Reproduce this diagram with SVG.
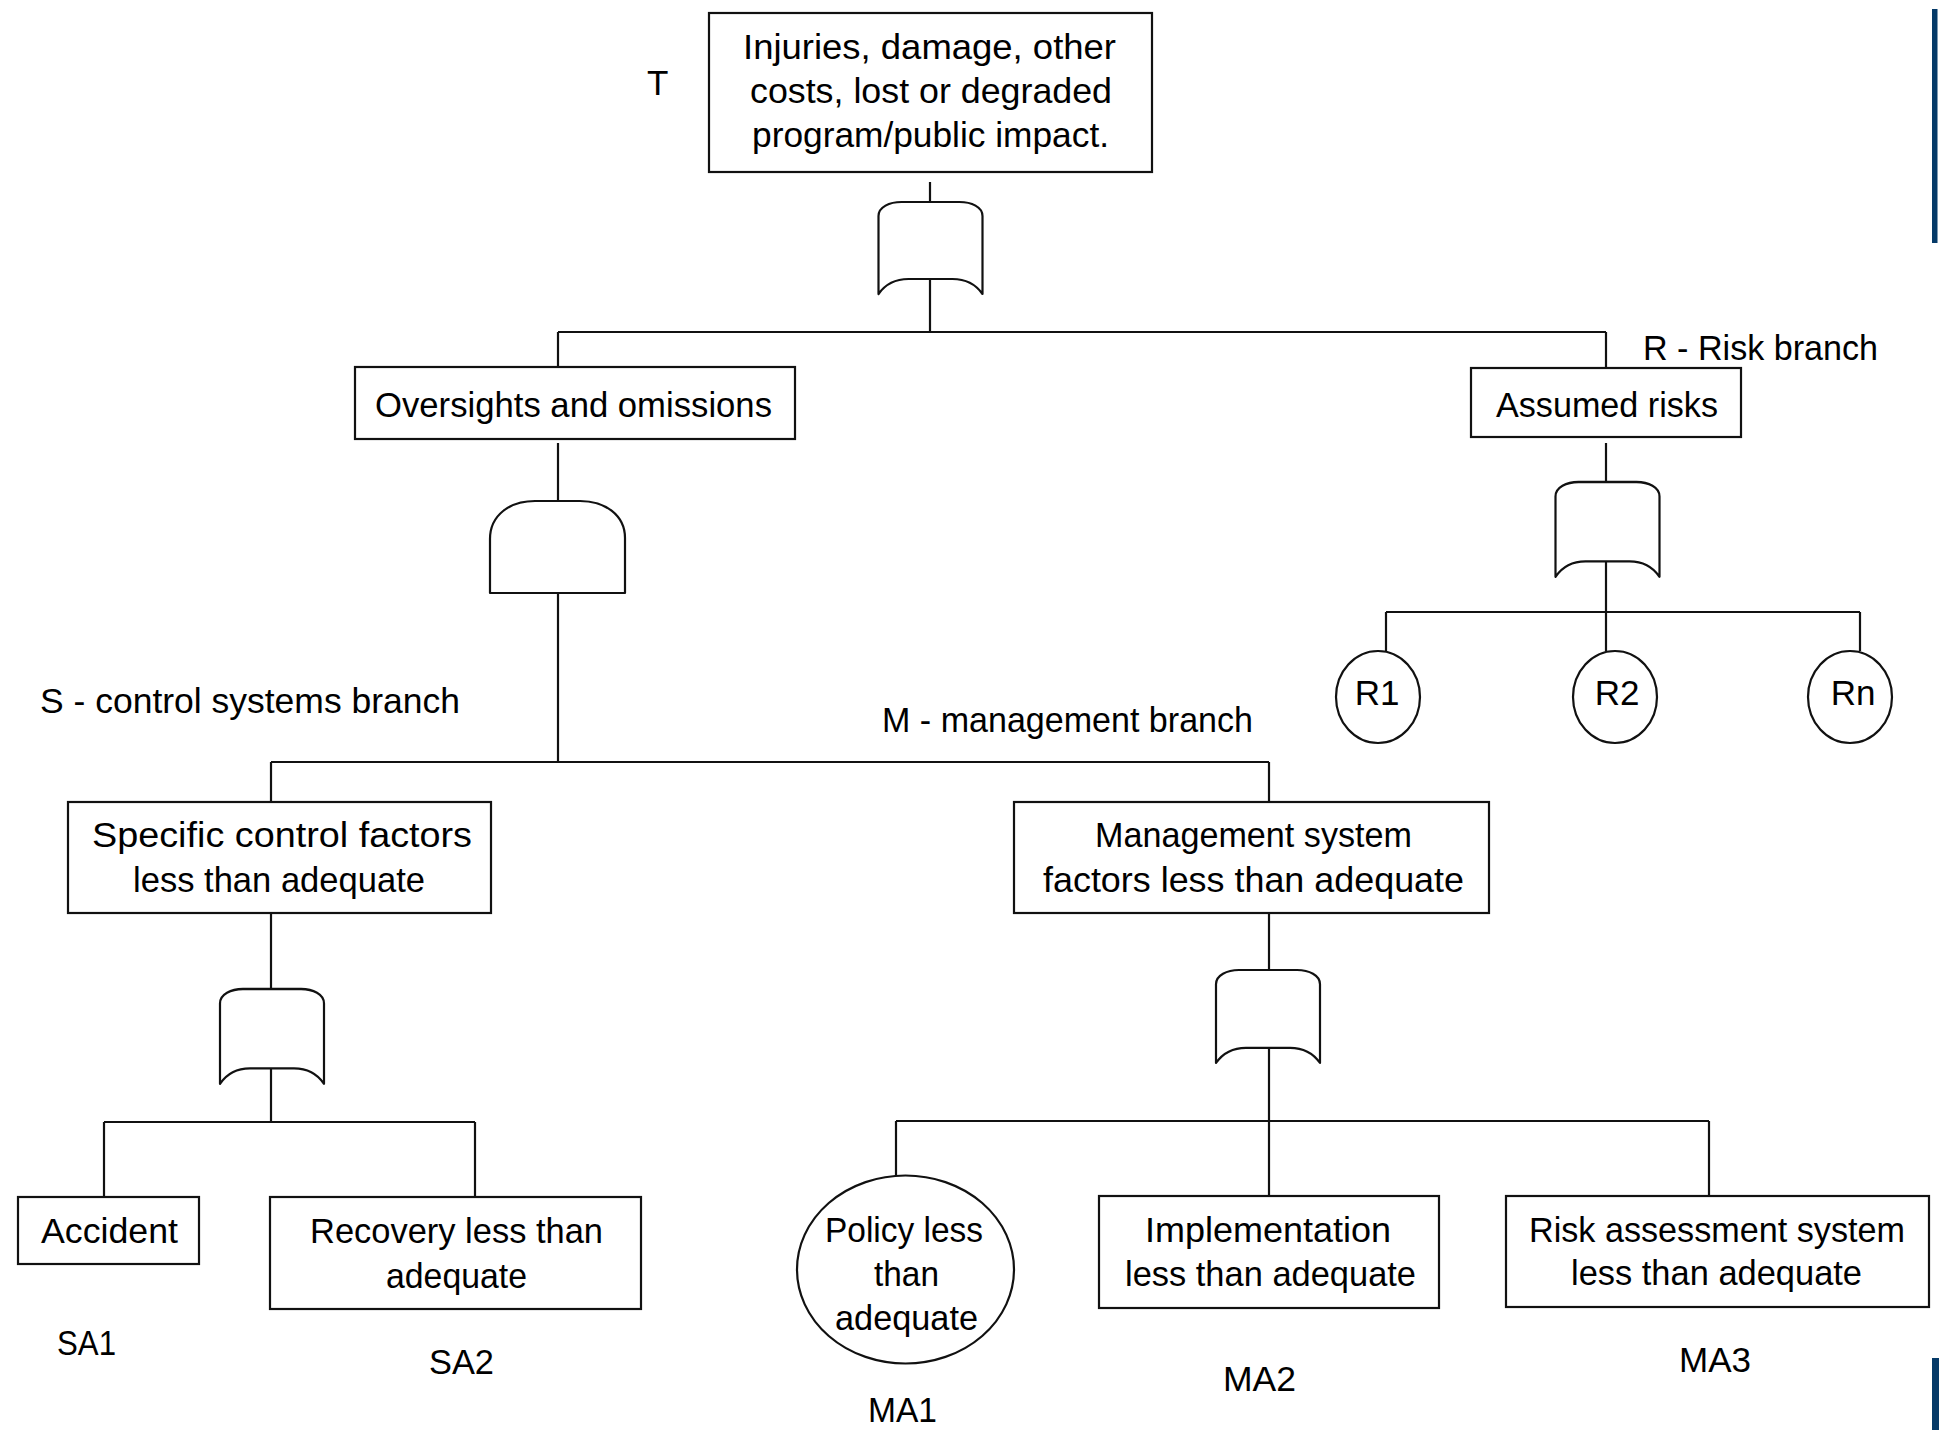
<svg xmlns="http://www.w3.org/2000/svg" xmlns:xlink="http://www.w3.org/1999/xlink" width="1939" height="1430" viewBox="0 0 1939 1430">
  <style>
    .box { fill: #ffffff; stroke: #111111; stroke-width: 2.2; }
    .gate { fill: #ffffff; stroke: #111111; stroke-width: 2.2; stroke-linejoin: round; }
    .conn { fill: none; stroke: #111111; stroke-width: 2.2; }
    text { font-family: "Liberation Sans", Arial, sans-serif; font-size: 35px; fill: #000000; }
    .mid { text-anchor: middle; }
    .bar { fill: #053a68; }
  </style>
  <defs>
    <path id="orGate" d="M-52,92 V14 C-52,5 -41,0 -29,0 H29 C41,0 52,5 52,14 V92 C45,82 35,77 22,77 H-22 C-35,77 -45,82 -52,92 Z"/>
  </defs>

  <rect width="1939" height="1430" fill="#ffffff"/>

  <!-- connectors -->
  <g id="connectors" class="conn">
    <path d="M930,182 V202"/>
    <path d="M930,272 V332"/>
    <path d="M558,332 H1606"/>
    <path d="M558,332 V368"/>
    <path d="M1606,332 V368"/>
    <path d="M558,443 V501"/>
    <path d="M558,593 V762"/>
    <path d="M271,762 H1269"/>
    <path d="M271,762 V802"/>
    <path d="M1269,762 V802"/>
    <path d="M271,913 V989"/>
    <path d="M271,1060 V1122"/>
    <path d="M104,1122 H475"/>
    <path d="M104,1122 V1197"/>
    <path d="M475,1122 V1197"/>
    <path d="M1269,913 V970"/>
    <path d="M1269,1041 V1121"/>
    <path d="M896,1121 H1709"/>
    <path d="M896,1121 V1176"/>
    <path d="M1269,1121 V1196"/>
    <path d="M1709,1121 V1196"/>
    <path d="M1606,443 V482"/>
    <path d="M1606,553 V612"/>
    <path d="M1386,612 H1860"/>
    <path d="M1386,612 V651"/>
    <path d="M1606,612 V651"/>
    <path d="M1860,612 V651"/>
  </g>

  <!-- gates -->
  <g id="gate-top-or">
    <use xlink:href="#orGate" href="#orGate" class="gate" transform="translate(930.5,202)"/>
  </g>
  <g id="gate-oversights-and">
    <path class="gate" d="M490,593 V539 C490,515 510,501 535,501 H580 C605,501 625,515 625,538 V593 Z"/>
  </g>
  <g id="gate-risk-or">
    <use xlink:href="#orGate" href="#orGate" class="gate" transform="translate(1607.5,482) scale(1,1.03)"/>
  </g>
  <g id="gate-specific-or">
    <use xlink:href="#orGate" href="#orGate" class="gate" transform="translate(272,989) scale(1,1.03)"/>
  </g>
  <g id="gate-mgmt-or">
    <use xlink:href="#orGate" href="#orGate" class="gate" transform="translate(1268,970) scale(1,1.01)"/>
  </g>

  <!-- nodes -->
  <g id="node-top">
    <rect class="box" x="709" y="13" width="443" height="159"/>
    <text x="743" y="59" textLength="373" lengthAdjust="spacingAndGlyphs">Injuries, damage, other</text>
    <text x="750" y="103" textLength="362" lengthAdjust="spacingAndGlyphs">costs, lost or degraded</text>
    <text x="752" y="147" textLength="357" lengthAdjust="spacingAndGlyphs">program/public impact.</text>
  </g>
  <g id="label-T"><text x="647" y="95">T</text></g>

  <g id="node-oversights">
    <rect class="box" x="355" y="367" width="440" height="72"/>
    <text x="375" y="417" textLength="397" lengthAdjust="spacingAndGlyphs">Oversights and omissions</text>
  </g>

  <g id="node-assumed">
    <rect class="box" x="1471" y="368" width="270" height="69"/>
    <text x="1496" y="417" textLength="222" lengthAdjust="spacingAndGlyphs">Assumed risks</text>
  </g>
  <g id="label-R"><text x="1643" y="360" textLength="235" lengthAdjust="spacingAndGlyphs">R - Risk branch</text></g>

  <g id="node-R1">
    <ellipse class="box" cx="1378" cy="697" rx="42" ry="46"/>
    <text class="mid" x="1377" y="705">R1</text>
  </g>
  <g id="node-R2">
    <ellipse class="box" cx="1615" cy="697" rx="42" ry="46"/>
    <text class="mid" x="1617" y="705">R2</text>
  </g>
  <g id="node-Rn">
    <ellipse class="box" cx="1850" cy="697" rx="42" ry="46"/>
    <text class="mid" x="1853" y="705">Rn</text>
  </g>

  <g id="label-S"><text x="40" y="713" textLength="420" lengthAdjust="spacingAndGlyphs">S - control systems branch</text></g>
  <g id="label-M"><text x="882" y="732" textLength="371" lengthAdjust="spacingAndGlyphs">M - management branch</text></g>

  <g id="node-specific">
    <rect class="box" x="68" y="802" width="423" height="111"/>
    <text x="92" y="847" textLength="380" lengthAdjust="spacingAndGlyphs">Specific control factors</text>
    <text x="133" y="892" textLength="292" lengthAdjust="spacingAndGlyphs">less than adequate</text>
  </g>

  <g id="node-mgmt">
    <rect class="box" x="1014" y="802" width="475" height="111"/>
    <text x="1095" y="847" textLength="317" lengthAdjust="spacingAndGlyphs">Management system</text>
    <text x="1043" y="892" textLength="421" lengthAdjust="spacingAndGlyphs">factors less than adequate</text>
  </g>

  <g id="node-accident">
    <rect class="box" x="18" y="1197" width="181" height="67"/>
    <text x="41" y="1243" textLength="137" lengthAdjust="spacingAndGlyphs">Accident</text>
  </g>
  <g id="label-SA1"><text x="57" y="1355" textLength="59" lengthAdjust="spacingAndGlyphs">SA1</text></g>

  <g id="node-recovery">
    <rect class="box" x="270" y="1197" width="371" height="112"/>
    <text x="310" y="1243" textLength="293" lengthAdjust="spacingAndGlyphs">Recovery less than</text>
    <text x="386" y="1288" textLength="141" lengthAdjust="spacingAndGlyphs">adequate</text>
  </g>
  <g id="label-SA2"><text x="429" y="1374" textLength="65" lengthAdjust="spacingAndGlyphs">SA2</text></g>

  <g id="node-policy">
    <ellipse class="box" cx="905.5" cy="1269.5" rx="108.5" ry="94"/>
    <text x="825" y="1242" textLength="158" lengthAdjust="spacingAndGlyphs">Policy less</text>
    <text x="874" y="1286" textLength="65" lengthAdjust="spacingAndGlyphs">than</text>
    <text x="835" y="1330" textLength="143" lengthAdjust="spacingAndGlyphs">adequate</text>
  </g>
  <g id="label-MA1"><text x="868" y="1422" textLength="69" lengthAdjust="spacingAndGlyphs">MA1</text></g>

  <g id="node-implementation">
    <rect class="box" x="1099" y="1196" width="340" height="112"/>
    <text x="1145" y="1242" textLength="246" lengthAdjust="spacingAndGlyphs">Implementation</text>
    <text x="1125" y="1286" textLength="291" lengthAdjust="spacingAndGlyphs">less than adequate</text>
  </g>
  <g id="label-MA2"><text x="1223" y="1391" textLength="73" lengthAdjust="spacingAndGlyphs">MA2</text></g>

  <g id="node-riskassess">
    <rect class="box" x="1506" y="1196" width="423" height="111"/>
    <text x="1529" y="1242" textLength="376" lengthAdjust="spacingAndGlyphs">Risk assessment system</text>
    <text x="1571" y="1285" textLength="291" lengthAdjust="spacingAndGlyphs">less than adequate</text>
  </g>
  <g id="label-MA3"><text x="1679" y="1372" textLength="72" lengthAdjust="spacingAndGlyphs">MA3</text></g>

  <!-- page edge bars -->
  <rect class="bar" x="1932" y="9" width="5.5" height="234"/>
  <rect class="bar" x="1932" y="1358" width="7" height="72"/>
</svg>
